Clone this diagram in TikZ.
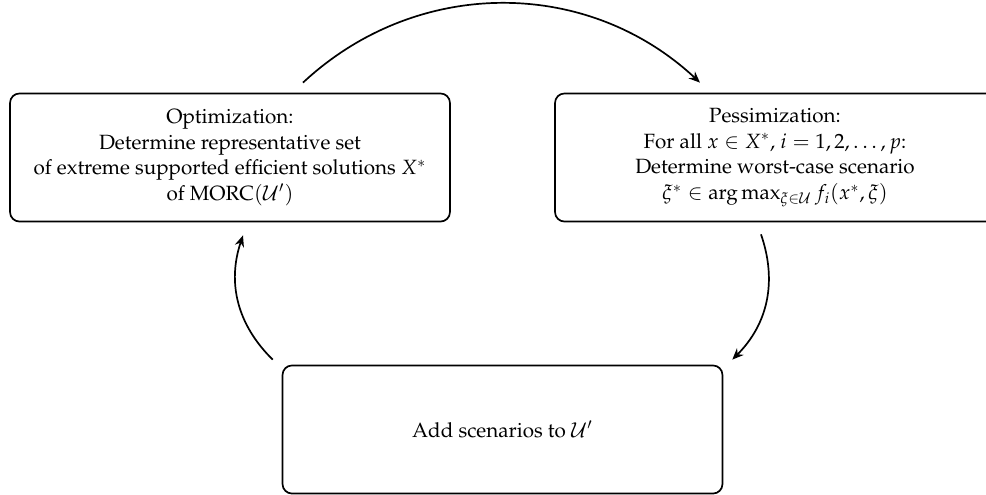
\documentclass[tikz,border=0pt]{standalone}
\usepackage[T1]{fontenc}
\usepackage{mathpazo}
\usetikzlibrary{arrows.meta,calc}

\tikzset{
  stage/.style={draw, line width=0.9pt, rounded corners=5pt,
    minimum width=233.6pt, minimum height=68pt, align=center,
    inner sep=0pt, font=\fontsize{10.95}{13.6}\selectfont},
  flow/.style={line width=0.9pt, -{Stealth[length=6pt,width=5pt]}},
}

\begin{document}
\begin{tikzpicture}[x=0.531pt, y=-0.531pt]
  \useasboundingbox (0,0) rectangle (986,494);

  % the three stages of the loop
  \node[stage] (opt) at (230,157.5)
    {Optimization:\\
     Determine representative set\\
     of extreme supported efficient solutions $X^*$\\
     of MORC$(\mathcal{U}')$};
  \node[stage] (pes) at (775,157.5)
    {Pessimization:\\
     For all $x \in X^*$, $i = 1, 2, \dots, p$:\\
     Determine worst-case scenario\\
     $\xi^* \in \arg\max_{\xi\in\mathcal{U}} f_i(x^*, \xi)$};
  \node[stage] (add) at (502.5,429.5)
    {Add scenarios to $\mathcal{U}'$};

  % loose ends of the arcs, placed around the boxes
  \coordinate (t1) at ($(opt.north)+(73,-10)$);
  \coordinate (t2) at ($(pes.north)+(-75,-10)$);
  \coordinate (r1) at ($(pes.south)+(-14,12)$);
  \coordinate (r2) at ($(add.north east)+(9,-5)$);
  \coordinate (l1) at ($(add.north west)+(-9,-5)$);
  \coordinate (l2) at ($(opt.south)+(13,13)$);

  \draw[flow] (t1) to[bend left=43] (t2);
  \draw[flow] (r1) to[bend left=32] (r2);
  \draw[flow] (l1) to[bend left=32] (l2);
\end{tikzpicture}
\end{document}
